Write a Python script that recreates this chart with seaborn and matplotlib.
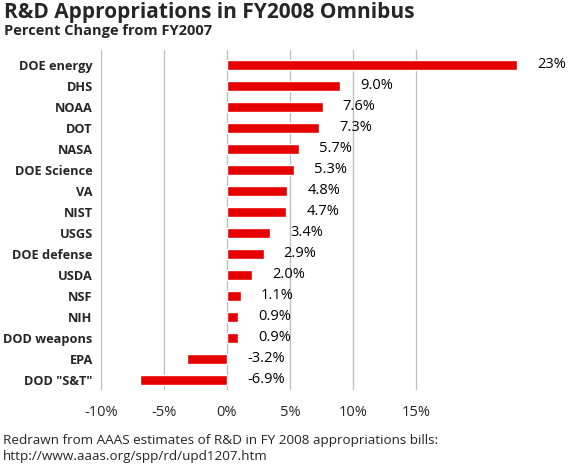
import pandas as pd
import matplotlib.pyplot as plt
import seaborn as sns

# データ (AAAS estimates, % change FY2007 -> FY2008)
AGENCIES = ["DOE energy", "DHS", "NOAA", "DOT", "NASA", "DOE Science", "VA", "NIST",
            "USGS", "DOE defense", "USDA", "NSF", "NIH", "DOD weapons", "EPA", 'DOD "S&T"']
CHANGES = [23.0, 9.0, 7.6, 7.3, 5.7, 5.3, 4.8, 4.7, 3.4, 2.9, 2.0, 1.1, 0.9, 0.9, -3.2, -6.9]
LABELS = ["23%", "9.0%", "7.6%", "7.3%", "5.7%", "5.3%", "4.8%", "4.7%",
          "3.4%", "2.9%", "2.0%", "1.1%", "0.9%", "0.9%", "-3.2%", "-6.9%"]
XTICKS = [-10, -5, 0, 5, 10, 15]

RED = "#E60000"

sns.set_theme(style="white")
plt.rcParams["font.family"] = ["Open Sans", "DejaVu Sans"]

df = pd.DataFrame({"agency": AGENCIES, "change": CHANGES})

fig = plt.figure(figsize=(5.74, 4.68), dpi=100)
ax = fig.add_axes([0.176, 0.1667, 0.790, 0.7265])

sns.barplot(data=df, x="change", y="agency", color=RED, saturation=1,
            width=0.44, orient="h", ax=ax, zorder=3)

ax.set_xlim(-10, 26)
ax.set_ylim(15.48, -0.71)
ax.set_xticks(XTICKS)
ax.set_xticklabels([f"{t}%" for t in XTICKS], fontsize=10.5)
for t in XTICKS:
    ax.axvline(t, color="#BDBDBD", lw=0.9, zorder=1)
ax.grid(False)
for s in ax.spines.values():
    s.set_visible(False)
ax.tick_params(axis="both", length=0)
ax.tick_params(axis="x", pad=11)
ax.tick_params(axis="y", pad=6)
for lbl in ax.get_yticklabels():
    lbl.set_fontweight("bold")
    lbl.set_fontsize(9.2)
ax.set_xlabel("")
ax.set_ylabel("")

# 値ラベル
for i, (v, lab) in enumerate(zip(CHANGES, LABELS)):
    ax.text(max(v, 0) + 1.6, i, lab, va="center", ha="left", fontsize=10.5, color="black")

fig.text(0.007, 0.995, "R&D Appropriations in FY2008 Omnibus", ha="left", va="top",
         fontsize=15, fontweight="bold")
fig.text(0.007, 0.948, "Percent Change from FY2007", ha="left", va="top",
         fontsize=10.5, fontweight="bold")
fig.text(0.005, 0.072, "Redrawn from AAAS estimates of R&D in FY 2008 appropriations bills:\n"
         "http://www.aaas.org/spp/rd/upd1207.htm", ha="left", va="top",
         fontsize=9.7, linespacing=1.25)

fig.savefig("out.png", dpi=100)
